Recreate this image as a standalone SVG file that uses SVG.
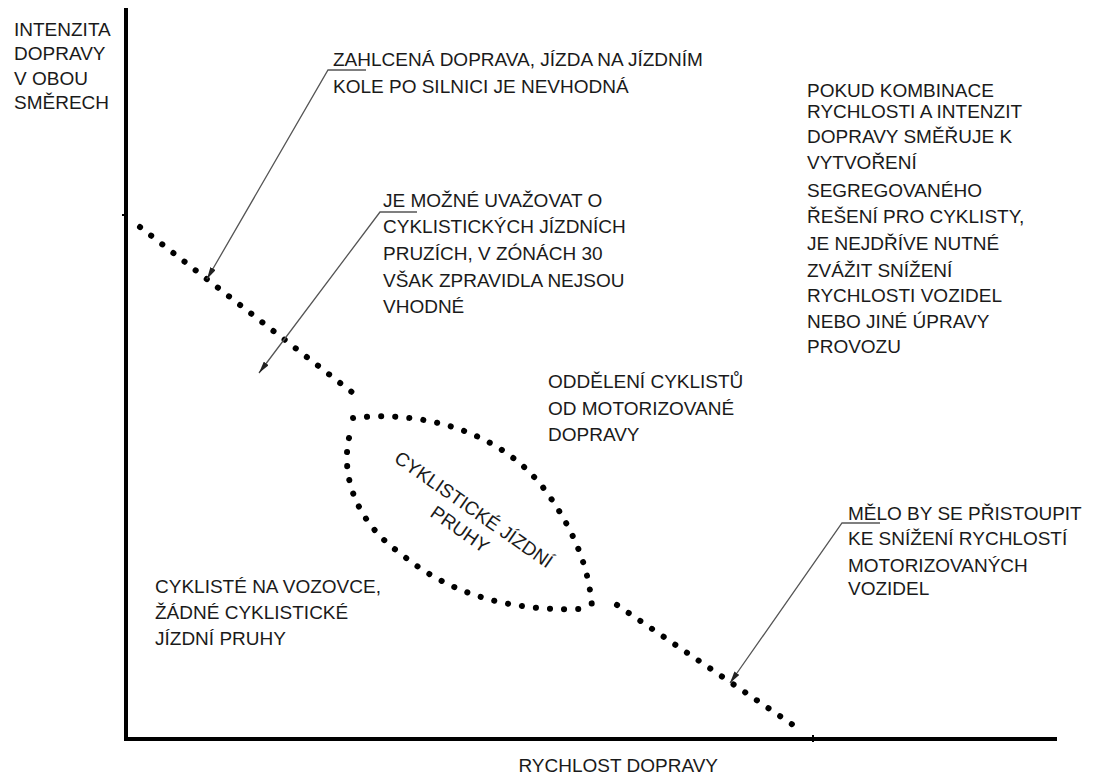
<svg xmlns="http://www.w3.org/2000/svg" width="1093" height="776" viewBox="0 0 1093 776">
<style>
text{font-family:"Liberation Sans",Arial,sans-serif;font-size:19px;fill:#1a1a1a}
.ax{stroke:#000;stroke-width:4;fill:none}
.dot{stroke:#000;stroke-width:6;stroke-linecap:round;stroke-dasharray:0.1 14;fill:none}
.lead{stroke:#555;stroke-width:1.3;fill:none}
</style>
<defs>
<marker id="ah" viewBox="0 0 12 6" refX="12" refY="3" markerWidth="12" markerHeight="6" markerUnits="userSpaceOnUse" orient="auto">
<path d="M0,0 L12,3 L0,6 z" fill="#222"/>
</marker>
</defs>
<rect width="1093" height="776" fill="#fff"/>
<g id="axes">
<path class="ax" d="M126,8 L126,739 L1057,739"/>
<path d="M122,215 L128,215 M813,735 L813,742" stroke="#000" stroke-width="2"/>
</g>
<g id="curve">
<path class="dot" d="M140,227 L353,393"/>
<path class="dot" d="M353,418 C420,410 500,430 545,490 C578,535 590,575 592,608"/>
<path class="dot" d="M349,438 C340,480 360,525 400,553 C450,595 510,611 580,609"/>
<path class="dot" d="M617,605 L796,727"/>
</g>
<g id="connectors">
<path class="lead" d="M366,70 L328,70 L207,279" marker-end="url(#ah)"/>
<path class="lead" d="M417,212 L380,212 L259,373" marker-end="url(#ah)"/>
<path class="lead" d="M880,523 L842,523 L730,683" marker-end="url(#ah)"/>
</g>
<g id="y-label">
<text x="14" y="36">INTENZITA</text>
<text x="14" y="60">DOPRAVY</text>
<text x="14" y="85">V OBOU</text>
<text x="14" y="109">SMĚRECH</text>
</g>
<g id="x-label">
<text x="718" y="772" text-anchor="end">RYCHLOST DOPRAVY</text>
</g>
<g id="note-congested">
<text x="333" y="66">ZAHLCENÁ DOPRAVA, JÍZDA NA JÍZDNÍM</text>
<text x="333" y="93">KOLE PO SILNICI JE NEVHODNÁ</text>
</g>
<g id="note-lanes">
<text x="383" y="207">JE MOŽNÉ UVAŽOVAT O</text>
<text x="383" y="233">CYKLISTICKÝCH JÍZDNÍCH</text>
<text x="383" y="260">PRUZÍCH, V ZÓNÁCH 30</text>
<text x="383" y="287">VŠAK ZPRAVIDLA NEJSOU</text>
<text x="383" y="313">VHODNÉ</text>
</g>
<g id="note-segregation">
<text x="807" y="97">POKUD KOMBINACE</text>
<text x="807" y="118">RYCHLOSTI A INTENZIT</text>
<text x="807" y="143">DOPRAVY SMĚŘUJE K</text>
<text x="807" y="169">VYTVOŘENÍ</text>
<text x="807" y="197">SEGREGOVANÉHO</text>
<text x="807" y="223">ŘEŠENÍ PRO CYKLISTY,</text>
<text x="807" y="250">JE NEJDŘÍVE NUTNÉ</text>
<text x="807" y="277">ZVÁŽIT SNÍŽENÍ</text>
<text x="807" y="302">RYCHLOSTI VOZIDEL</text>
<text x="807" y="328">NEBO JINÉ ÚPRAVY</text>
<text x="807" y="353">PROVOZU</text>
</g>
<g id="note-separation">
<text x="548" y="388">ODDĚLENÍ CYKLISTŮ</text>
<text x="548" y="415">OD MOTORIZOVANÉ</text>
<text x="548" y="441">DOPRAVY</text>
</g>
<g id="lens-label" transform="translate(470,515) rotate(35)">
<text x="0" y="0" text-anchor="middle">CYKLISTICKÉ JÍZDNÍ</text>
<text x="0" y="24" text-anchor="middle">PRUHY</text>
</g>
<g id="note-road">
<text x="155" y="593">CYKLISTÉ NA VOZOVCE,</text>
<text x="155" y="619">ŽÁDNÉ CYKLISTICKÉ</text>
<text x="155" y="645">JÍZDNÍ PRUHY</text>
</g>
<g id="note-speed">
<text x="848" y="520">MĚLO BY SE PŘISTOUPIT</text>
<text x="848" y="545">KE SNÍŽENÍ RYCHLOSTÍ</text>
<text x="848" y="572">MOTORIZOVANÝCH</text>
<text x="848" y="595">VOZIDEL</text>
</g>
</svg>
